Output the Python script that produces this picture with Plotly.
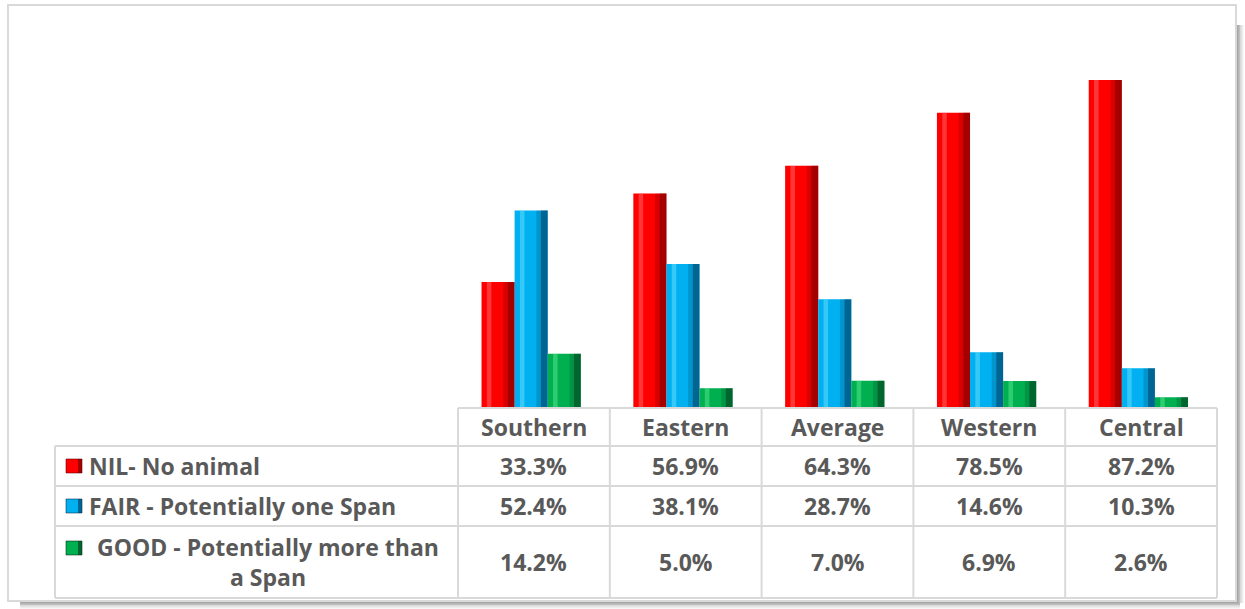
import plotly.graph_objects as go

categories = ["Southern", "Eastern", "Average", "Western", "Central"]
series_names = ["NIL- No animal", "FAIR - Potentially one Span", "GOOD - Potentially more than<br>a Span"]
nil_values = [33.3, 56.9, 64.3, 78.5, 87.2]
fair_values = [52.4, 38.1, 28.7, 14.6, 10.3]
good_values = [14.2, 5.0, 7.0, 6.9, 2.6]
series_values = [nil_values, fair_values, good_values]
colors = ["#FF0000", "#00B0F0", "#00B050"]
dark_colors = ["rgba(90,0,0,0.55)", "rgba(0,40,70,0.55)", "rgba(0,40,20,0.55)"]
light_colors = ["rgba(255,120,120,0.45)", "rgba(120,230,255,0.45)", "rgba(100,240,150,0.45)"]

W, H = 1245, 609
def px(x):
    return x / W
def py(y):
    return 1 - y / H

# layout geometry (pixels)
tab_left, plot_left, plot_right = 55, 458, 1217
row_y = [408, 446, 486, 526, 598]
bar_bottom, plot_top = 407, 32

xs = list(range(len(categories)))
bw = 0.218
offsets = [-0.345, -0.127, 0.091]

fig = go.Figure()
for i, vals in enumerate(series_values):
    fig.add_trace(go.Bar(x=xs, y=vals, name=series_names[i], marker=dict(color=colors[i], line=dict(width=0)),
                         width=bw, offset=offsets[i], showlegend=False, hoverinfo="y"))
    # bevel shading: dark right edge, light left edge
    fig.add_trace(go.Bar(x=xs, y=vals, marker=dict(color=dark_colors[i], line=dict(width=0)),
                         width=0.045, offset=offsets[i] + bw - 0.045, showlegend=False, hoverinfo="skip"))
    fig.add_trace(go.Bar(x=xs, y=vals, marker=dict(color="rgba(0,0,0,0.15)", line=dict(width=0)),
                         width=0.03, offset=offsets[i] + bw - 0.075, showlegend=False, hoverinfo="skip"))
    fig.add_trace(go.Bar(x=xs, y=vals, marker=dict(color=light_colors[i], line=dict(width=0)),
                         width=0.03, offset=offsets[i] + 0.035, showlegend=False, hoverinfo="skip"))

shapes = []
grid = dict(color="#D9D9D9", width=2)
# outer frame
shapes.append(dict(type="rect", xref="paper", yref="paper", x0=px(8), x1=px(1236), y0=py(601), y1=py(5),
                   line=dict(color="#D9D9D9", width=2), layer="below"))
# frame shadow right and bottom
for k, c in enumerate(["#A6A6A6", "#BFBFBF", "#D9D9D9", "#EDEDED"]):
    shapes.append(dict(type="line", xref="paper", yref="paper", x0=px(1238 + k * 1.5), x1=px(1238 + k * 1.5),
                       y0=py(603), y1=py(25), line=dict(color=c, width=2)))
    shapes.append(dict(type="line", xref="paper", yref="paper", x0=px(20), x1=px(1240),
                       y0=py(603 + k * 1.5), y1=py(603 + k * 1.5), line=dict(color=c, width=2)))
# table horizontal lines
shapes.append(dict(type="line", xref="paper", yref="paper", x0=px(plot_left), x1=px(plot_right),
                   y0=py(row_y[0]), y1=py(row_y[0]), line=grid))
for yv in row_y[1:]:
    shapes.append(dict(type="line", xref="paper", yref="paper", x0=px(tab_left), x1=px(plot_right),
                       y0=py(yv), y1=py(yv), line=grid))
# vertical lines
shapes.append(dict(type="line", xref="paper", yref="paper", x0=px(tab_left), x1=px(tab_left),
                   y0=py(row_y[1]), y1=py(row_y[-1]), line=grid))
col_w = (plot_right - plot_left) / len(categories)
for j in range(len(categories) + 1):
    xv = plot_left + j * col_w
    shapes.append(dict(type="line", xref="paper", yref="paper", x0=px(xv), x1=px(xv),
                       y0=py(row_y[0]), y1=py(row_y[-1]), line=grid))

annotations = []
font_main = dict(family="Open Sans", size=23, color="#595959")
for j, cat in enumerate(categories):
    annotations.append(dict(x=xs[j], xref="x", y=py((row_y[0] + row_y[1]) / 2), yref="paper",
                            text="<b>%s</b>" % cat, showarrow=False, font=font_main,
                            xanchor="center", yanchor="middle"))
    for i, vals in enumerate(series_values):
        annotations.append(dict(x=xs[j], xref="x", y=py((row_y[i + 1] + row_y[i + 2]) / 2), yref="paper",
                                text="<b>%.1f%%</b>" % vals[j], showarrow=False, font=font_main,
                                xanchor="center", yanchor="middle"))

# legend keys + series labels
for i, name in enumerate(series_names):
    yc = (row_y[i + 1] + row_y[i + 2]) / 2
    if i == 2:
        ykey = 548
        annotations.append(dict(x=px(268), xref="paper", y=py(yc), yref="paper", text="<b>%s</b>" % name,
                                showarrow=False, font=font_main, align="center", xanchor="center",
                                yanchor="middle"))
    else:
        ykey = yc
        annotations.append(dict(x=px(87), xref="paper", y=py(yc), yref="paper", text="<b>%s</b>" % name,
                                showarrow=False, font=font_main, xanchor="left", yanchor="middle"))
    shapes.append(dict(type="rect", xref="paper", yref="paper", x0=px(66), x1=px(82), y0=py(ykey + 7),
                       y1=py(ykey - 7), fillcolor=colors[i], line=dict(color=dark_colors[i], width=1)))
    shapes.append(dict(type="rect", xref="paper", yref="paper", x0=px(78), x1=px(82), y0=py(ykey + 7),
                       y1=py(ykey - 7), fillcolor=dark_colors[i], line=dict(width=0)))

y0p, y1p = py(bar_bottom), py(plot_top)
fig.update_layout(
    width=W, height=H, margin=dict(l=0, r=0, t=0, b=0),
    paper_bgcolor="white", plot_bgcolor="white",
    barmode="overlay",
    xaxis=dict(domain=[px(plot_left), px(plot_right)], range=[-0.5, len(categories) - 0.5],
               visible=False, fixedrange=True),
    yaxis=dict(domain=[y0p, y1p], range=[0, 100], visible=False, fixedrange=True),
    shapes=shapes, annotations=annotations,
)
fig.write_html("out.html")
